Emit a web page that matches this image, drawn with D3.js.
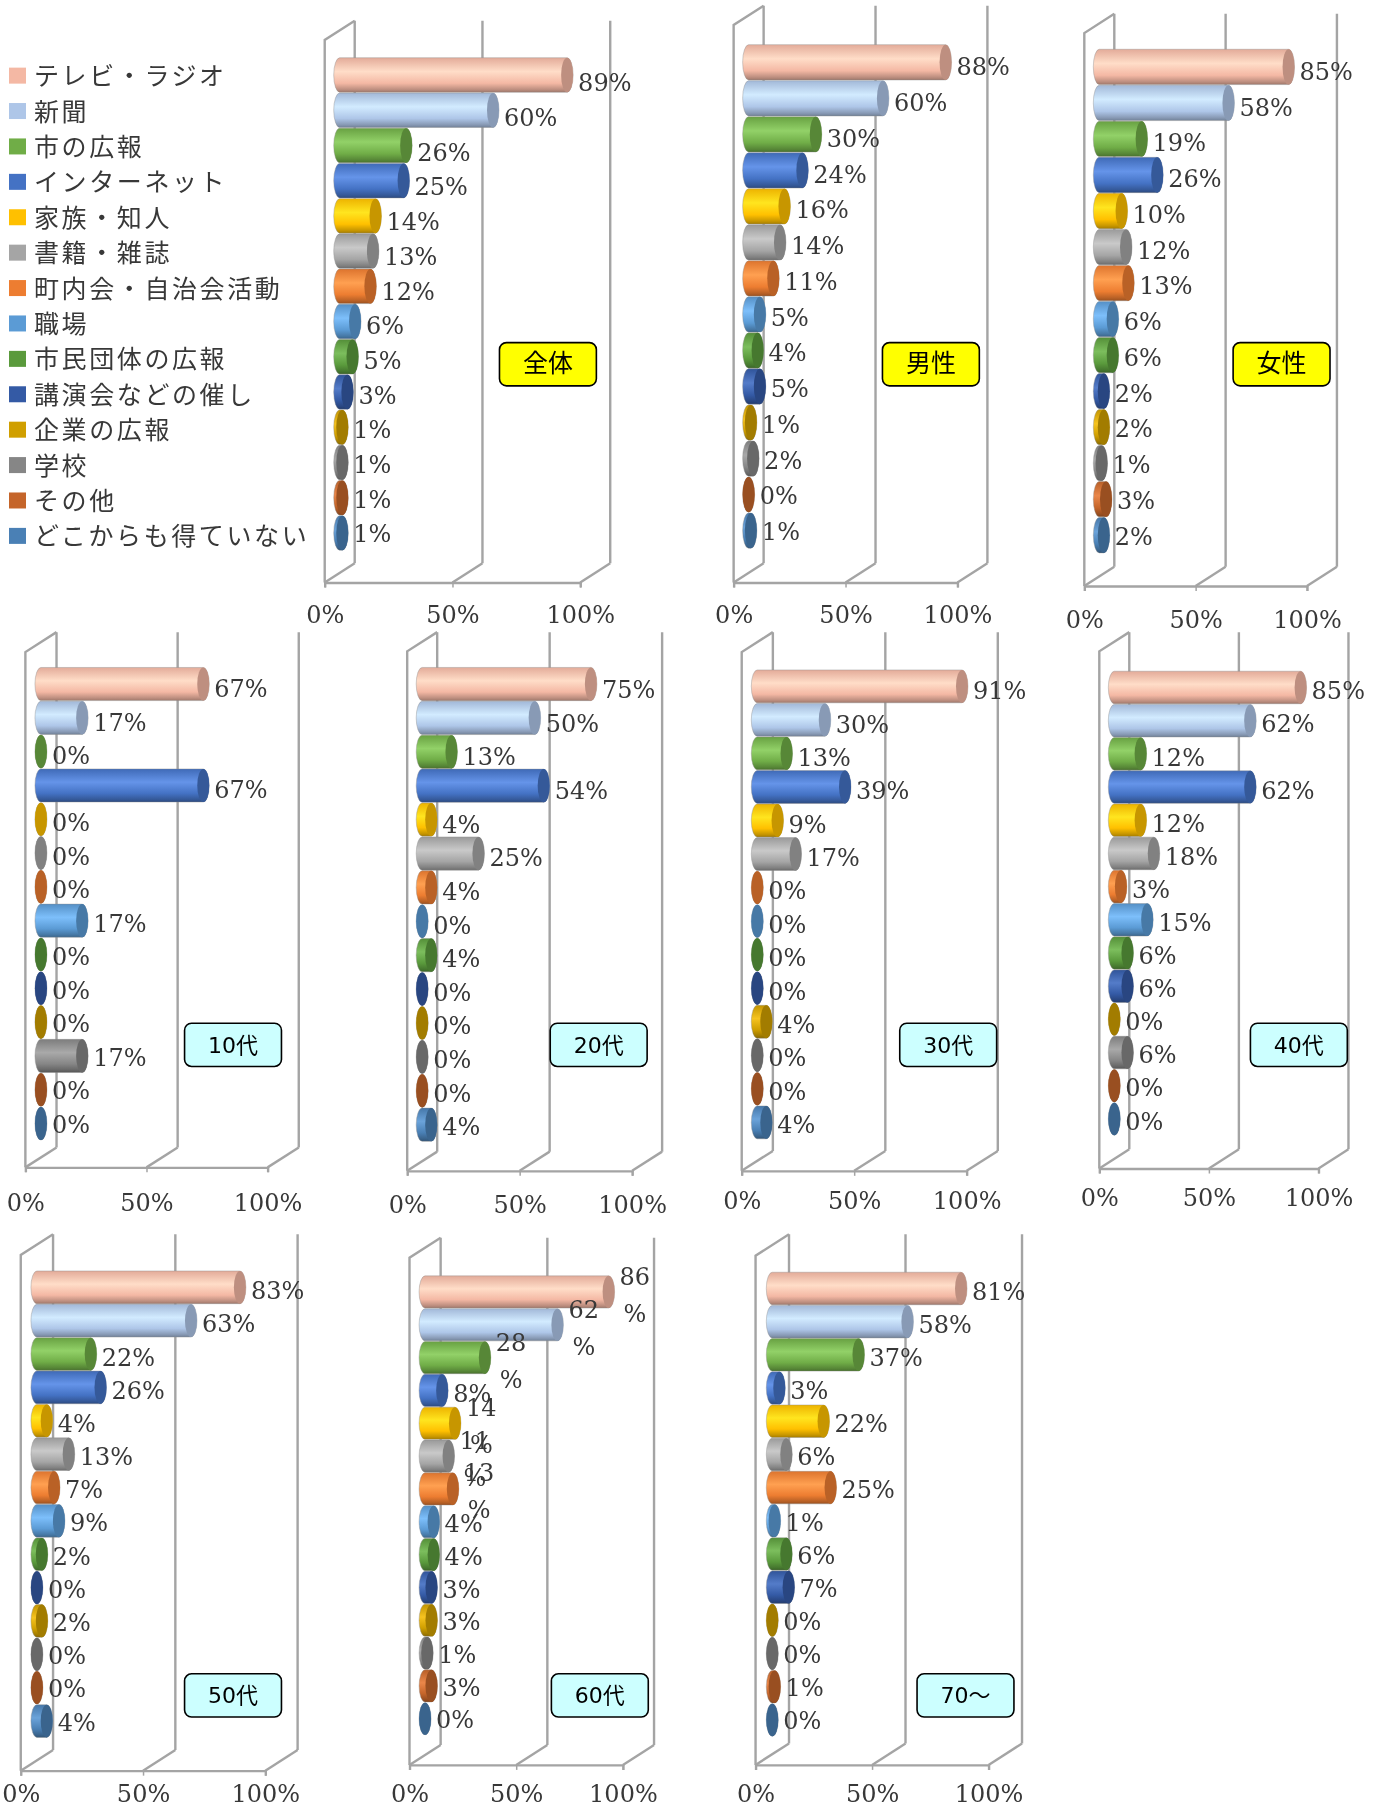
<!DOCTYPE html>
<html lang="ja"><head><meta charset="utf-8">
<script src="https://cdn.jsdelivr.net/npm/d3@7/dist/d3.min.js"></script>
<style>html,body{margin:0;padding:0;background:#fff}svg{display:block}</style>
</head><body><div id="chart"></div>
<script>
const categories=["テレビ・ラジオ","新聞","市の広報","インターネット","家族・知人","書籍・雑誌","町内会・自治会活動","職場","市民団体の広報","講演会などの催し","企業の広報","学校","その他","どこからも得ていない"];
const colors=["#F4B8A4","#AEC6E8","#70AD47","#4472C4","#FFC000","#A5A5A5","#ED7D31","#5B9BD5","#5A9A3C","#345AA5","#D09F00","#868686","#C5652A","#4A80B5"];
const ticks=[0,50,100];
const groups=["全体","男性","女性","10代","20代","30代","40代","50代","60代","70～"];
const vAll=[89,60,26,25,14,13,12,6,5,3,1,1,1,1];
const vMale=[88,60,30,24,16,14,11,5,4,5,1,2,0,1];
const vFemale=[85,58,19,26,10,12,13,6,6,2,2,1,3,2];
const v10=[67,17,0,67,0,0,0,17,0,0,0,17,0,0];
const v20=[75,50,13,54,4,25,4,0,4,0,0,0,0,4];
const v30=[91,30,13,39,9,17,0,0,0,0,4,0,0,4];
const v40=[85,62,12,62,12,18,3,15,6,6,0,6,0,0];
const v50=[83,63,22,26,4,13,7,9,2,0,2,0,0,4];
const v60=[86,62,28,8,14,11,13,4,4,3,3,1,3,0];
const v70=[81,58,37,3,22,6,25,1,6,7,0,0,1,0];
const seriesValues=[vAll,vMale,vFemale,v10,v20,v30,v40,v50,v60,v70];

// layout in reduced-image units (scaled by k below)
const k=1375/1192;
const layout=[
 {x0:281.5,x1:503,dx:26,top:18,base:505,tickY:532,bars:[65,462],labs:[71,462],badge:[433,297],fill:"#FFFF00"},
 {x0:636,x1:830,dx:26,top:5,base:505,tickY:532,bars:[54,460],labs:[57,460],badge:[765,297],fill:"#FFFF00"},
 {x0:940,x1:1133,dx:26,top:12,base:508,tickY:537,bars:[58,464],labs:[61,464],badge:[1069,297],fill:"#FFFF00"},
 {x0:22,x1:232,dx:27,top:548,base:1012,tickY:1042,bars:[593,974],labs:[596,974],badge:[160,887],fill:"#CCFFFF"},
 {x0:353,x1:548,dx:26,top:548,base:1015,tickY:1044,bars:[593,975],labs:[597,976],badge:[477,887],fill:"#CCFFFF"},
 {x0:643,x1:838,dx:27,top:548,base:1015,tickY:1040,bars:[595,973],labs:[598,974],badge:[780,887],fill:"#CCFFFF"},
 {x0:953,x1:1143,dx:26,top:548,base:1013,tickY:1038,bars:[596,970],labs:[598,971],badge:[1084,887],fill:"#CCFFFF"},
 {x0:18,x1:230,dx:28,top:1070,base:1535,tickY:1554,bars:[1116,1492],labs:[1118,1492],badge:[160,1451],fill:"#CCFFFF"},
 {x0:355,x1:540,dx:27,top:1073,base:1530,tickY:1554,bars:[1120,1490],labs:[1122,1490],badge:[478,1451],fill:"#CCFFFF",wrap:true},
 {x0:655,x1:857,dx:29,top:1070,base:1530,tickY:1554,bars:[1117,1491],labs:[1119,1491],badge:[795,1451],fill:"#CCFFFF"}
];
const wallColor="#a4a4a4", textColor="#383838";
const serif='"DejaVu Serif","Noto Sans CJK JP",serif';
const badgeFont='"DejaVu Sans","Noto Sans CJK JP",sans-serif';

const svg=d3.select("#chart").append("svg").attr("width",1375).attr("height",1809).style("filter","blur(0.5px)");
const defs=svg.append("defs");
colors.forEach((c,i)=>{
  const base=d3.color(c);
  const g=defs.append("linearGradient").attr("id","g"+i).attr("x1",0).attr("x2",0).attr("y1",0).attr("y2",1);
  [[0,base.darker(0.2)],[0.4,d3.interpolateRgb(base.brighter(0.45),"#ffffff")(0.12)],[0.74,base],[0.92,base.darker(0.7)],[1,base.darker(1.2)]]
   .forEach(([o,col])=>g.append("stop").attr("offset",o).attr("stop-color",col));
});

// legend
const legendY=d3.scalePoint().domain(categories).range([66*k,465*k]);
const legend=svg.append("g");
categories.forEach((c,i)=>{
  legend.append("rect").attr("x",9).attr("y",legendY(c)-8.5).attr("width",17).attr("height",16).attr("fill",colors[i]);
  legend.append("text").attr("x",34).attr("y",legendY(c)+9).text(c)
    .attr("font-family",'"Noto Sans CJK JP",sans-serif').attr("font-size",25).attr("font-weight",400)
    .attr("letter-spacing",2.6).attr("fill",textColor);
});

groups.forEach((name,pi)=>{
  const L=layout[pi], vals=seriesValues[pi];
  const g=svg.append("g");
  const x=d3.scaleLinear().domain([0,100]).range([L.x0*k,L.x1*k]);
  const dx=L.dx*k, dy=dx*0.64, base=L.base*k, top=L.top*k;
  const backBase=base-dy;
  const wall=g.append("g").attr("fill","none").attr("stroke",wallColor).attr("stroke-width",2.4);
  // back-wall verticals and floor diagonals
  ticks.forEach(t=>{
    wall.append("line").attr("x1",x(t)+dx).attr("x2",x(t)+dx).attr("y1",top).attr("y2",backBase);
    wall.append("line").attr("x1",x(t)).attr("x2",x(t)+dx).attr("y1",base).attr("y2",backBase);
  });
  // left wall
  wall.append("path").attr("d",d3.line()([[x(0),base],[x(0),top+dy],[x(0)+dx,top]]));
  // axis
  const axis=d3.axisBottom(x).tickValues(ticks).tickFormat(d=>d+"%").tickSize(5).tickPadding(L.tickY*k-base-13);
  const ax=g.append("g").attr("transform",`translate(0,${base})`).call(axis);
  ax.select(".domain").attr("stroke",wallColor).attr("stroke-width",2.4);
  ax.selectAll(".tick line").attr("stroke",wallColor).attr("stroke-width",1.5);
  ax.selectAll(".tick text").attr("font-family",serif).attr("font-size",24).attr("fill",textColor);

  // bars
  const y=d3.scalePoint().domain(categories).range([L.bars[0]*k,L.bars[1]*k]);
  const labY=d3.scalePoint().domain(categories).range([L.labs[0]*k+1,L.labs[1]*k+1]);
  const step=y.step();
  const h=step*0.98, ry=h/2, rx=6;
  const bx=d=>x(d)+dx/2;
  const bars=g.append("g").selectAll("g").data(vals).join("g");
  bars.append("path")
    .attr("d",(d,i)=>{const c=y(categories[i]),a=bx(0),b=bx(d);
      return `M${a},${c-ry}L${b},${c-ry}A${rx},${ry} 0 0 1 ${b},${c+ry}L${a},${c+ry}A${rx},${ry} 0 0 1 ${a},${c-ry}Z`;})
    .attr("fill",(d,i)=>`url(#g${i})`).attr("stroke","#8c8c8c").attr("stroke-opacity",.4).attr("stroke-width",1);
  bars.append("ellipse")
    .attr("cx",d=>bx(d)).attr("cy",(d,i)=>y(categories[i])).attr("rx",rx).attr("ry",ry)
    .attr("fill",(d,i)=>d3.color(colors[i]).darker(0.7));

  // data labels
  const labels=g.append("g").selectAll("text").data(vals).join("text")
    .attr("font-family",serif).attr("font-size",24).attr("fill",textColor)
    .attr("x",d=>bx(d)+rx+5)
    .attr("y",(d,i)=>labY(categories[i])+8.5);
  labels.each(function(d,i){
    const t=d3.select(this);
    if(L.wrap&&d>=10){
      const ly=labY(categories[i]);
      t.append("tspan").attr("y",ly-10).text(d);
      t.append("tspan").attr("x",bx(d)+rx+9).attr("y",ly+27).text("%");
    } else t.text(d+"%");
  });

  // badge
  const bw=84*k,bh=37.5*k;
  const bg=g.append("g").attr("transform",`translate(${L.badge[0]*k},${L.badge[1]*k})`);
  bg.append("rect").attr("width",bw).attr("height",bh).attr("rx",7).attr("fill",L.fill).attr("stroke","#000").attr("stroke-width",1.6);
  bg.append("text").attr("x",bw/2).attr("y",bh/2+8).attr("text-anchor","middle").attr("font-family",badgeFont)
    .attr("font-size",pi<3?25:22).attr("fill","#000").text(name);
});
</script></body></html>
